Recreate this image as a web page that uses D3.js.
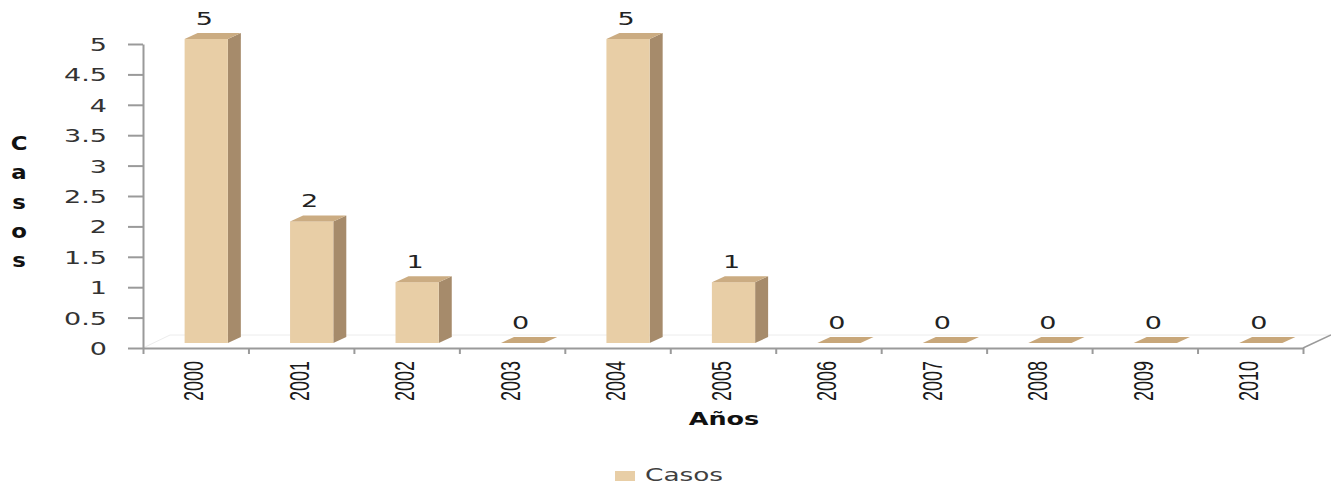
<!DOCTYPE html>
<html><head><meta charset="utf-8">
<script src="https://cdn.jsdelivr.net/npm/d3@7"></script>
<style>body{margin:0;background:#fff}svg{display:block}</style>
</head><body>
<svg id="c" width="1331" height="486"></svg>
<script>
const years = ["2000","2001","2002","2003","2004","2005","2006","2007","2008","2009","2010"];
const casos = [5,2,1,0,5,1,0,0,0,0,0];
const yTicks = [0,0.5,1,1.5,2,2.5,3,3.5,4,4.5,5];
const yTickLabels = ["0","0.5","1","1.5","2","2.5","3","3.5","4","4.5","5"];
const seriesName = "Casos";
const xTitle = "Años";
const yTitle = "Casos";

const svg = d3.select("#c");
const X0 = 143, X1 = 1303, Y0 = 348, Y1 = 44;
const y = d3.scaleLinear().domain([0,5]).range([Y0,Y1]);
const xb = d3.scaleBand().domain(years).range([X0,X1]);
const xe = d3.scaleLinear().domain([0,years.length]).range([X0,X1]);
const axisCol = "#9a9a9a";
const depth = {dx:27, dy:-13};

// floor (faint)
svg.append("path")
  .attr("d", `M${X0},${Y0} L${X0+depth.dx},${Y0+depth.dy} L${1331},${Y0+depth.dy}`)
  .attr("fill","none").attr("stroke","#ececec").attr("stroke-width",1);

// Y axis
const gy = svg.append("g").attr("transform",`translate(${X0},0)`)
  .call(d3.axisLeft(y).tickValues(yTicks).tickSize(15).tickSizeOuter(0)
    .tickFormat((d,i)=>yTickLabels[i]));
gy.select(".domain").attr("stroke",axisCol).attr("stroke-width",2);
gy.selectAll(".tick line").attr("stroke",axisCol).attr("stroke-width",2);
gy.selectAll(".tick text")
  .attr("x",0).attr("dy","0.36em")
  .attr("transform","translate(-36,0) scale(1.5,1)")
  .attr("font-family","DejaVu Sans").attr("font-size",18).attr("fill","#333");

// X axis (boundary ticks)
const gx = svg.append("g").attr("transform",`translate(0,${Y0})`)
  .call(d3.axisBottom(xe).tickValues(d3.range(years.length+1)).tickSize(6).tickSizeOuter(0).tickFormat(""));
gx.select(".domain").attr("stroke",axisCol).attr("stroke-width",2);
gx.selectAll(".tick line").attr("stroke",axisCol).attr("stroke-width",2);
svg.append("line").attr("x1",X1).attr("y1",Y0).attr("x2",X1+depth.dx+1).attr("y2",Y0+depth.dy)
  .attr("stroke",axisCol).attr("stroke-width",1.5);

// year labels
svg.append("g").selectAll("text").data(years).join("text")
  .attr("transform",d=>`translate(${xb(d)+xb.bandwidth()/2-2},361) scale(1.5,1) rotate(-90)`)
  .attr("text-anchor","end").attr("dy","0.36em")
  .attr("font-family","Liberation Sans").attr("font-size",18).attr("fill","#1a1a1a")
  .text(d=>d);

// bars (3D)
const bw = xb.bandwidth()*0.41;
const fo = {dx:10.5, dy:-5};   // front face offset
const bd = {dx:13, dy:-6};     // bar depth
const cFront="#E8CEA6", cSide="#A68B6B", cTop="#CBAC82";
const bars = svg.append("g").selectAll("g").data(years.map((d,i)=>({year:d,v:casos[i]}))).join("g");
bars.each(function(d){
  const g = d3.select(this);
  const xl = xb(d.year)+xb.bandwidth()/2 - bw/2 + fo.dx;
  const xr = xl + bw;
  const yt = y(d.v) + fo.dy, yb = y(0) + fo.dy;
  if (d.v > 0) {
    g.append("path").attr("d",`M${xr},${yt} L${xr+bd.dx},${yt+bd.dy} L${xr+bd.dx},${yb+bd.dy} L${xr},${yb} Z`).attr("fill",cSide);
    g.append("rect").attr("x",xl).attr("y",yt).attr("width",bw).attr("height",yb-yt).attr("fill",cFront);
  }
  g.append("path").attr("d",`M${xl},${yt} L${xl+bd.dx},${yt+bd.dy} L${xr+bd.dx},${yt+bd.dy} L${xr},${yt} Z`).attr("fill",d.v>0?cTop:"#C8A77A");
  g.append("text").attr("transform",`translate(${(xl+xr)/2-2},${yt-14}) scale(1.5,1)`)
    .attr("text-anchor","middle").attr("font-family","DejaVu Sans").attr("font-size",18).attr("fill","#222")
    .text(d.v);
});

// axis titles
svg.append("text").attr("transform","translate(724,425) scale(1.5,1)").attr("text-anchor","middle")
  .attr("font-family","DejaVu Sans").attr("font-weight","bold").attr("font-size",17).attr("fill","#111").text(xTitle);
svg.append("g").selectAll("text").data(yTitle.split("")).join("text")
  .attr("transform",(d,i)=>`translate(19,${150+i*29.3}) scale(1.2,1)`).attr("text-anchor","middle")
  .attr("font-family","DejaVu Sans").attr("font-weight","bold").attr("font-size",19).attr("fill","#111").text(d=>d);

// legend
svg.append("rect").attr("x",615).attr("y",471).attr("width",20).attr("height",10).attr("fill",cFront);
svg.append("text").attr("transform","translate(645,481) scale(1.55,1)")
  .attr("font-family","DejaVu Sans").attr("font-size",17).attr("fill","#404040").text(seriesName);
</script>
</body></html>
